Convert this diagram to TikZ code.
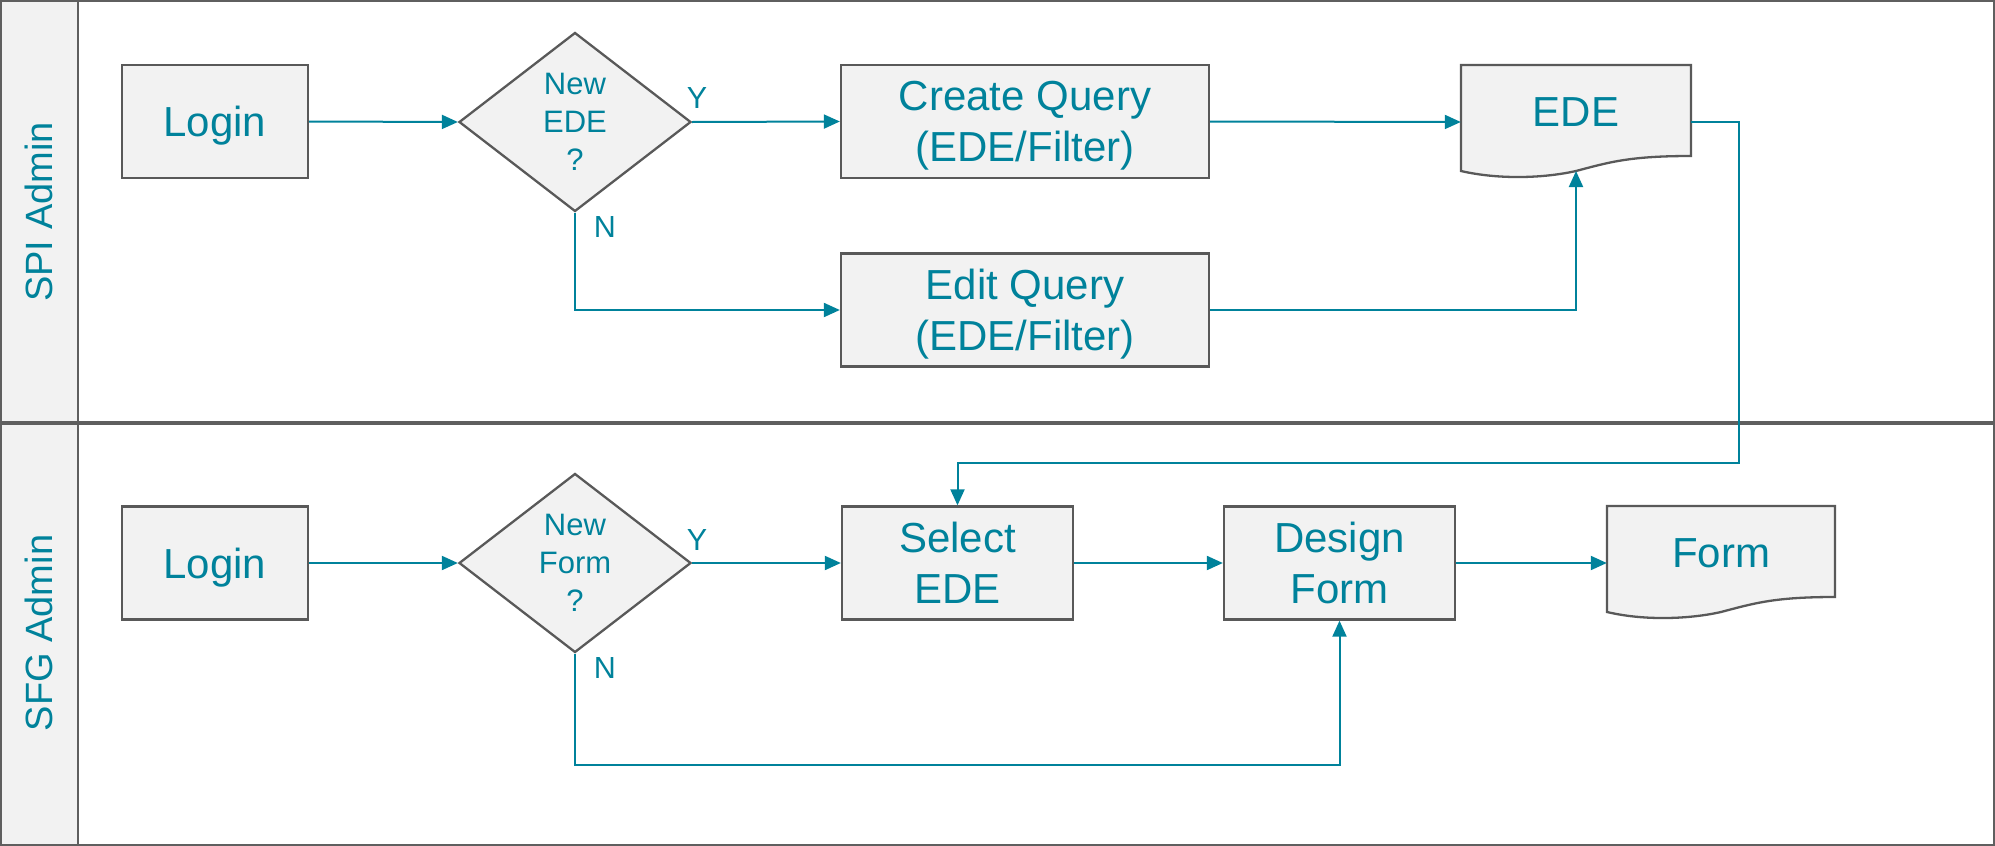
\documentclass[tikz,border=0pt]{standalone}
\usepackage{fontspec}
\setmainfont{Liberation Sans}
\usetikzlibrary{shapes.geometric,arrows.meta,calc}
\definecolor{teal1}{RGB}{0,130,155}
\definecolor{boxfill}{RGB}{242,242,242}
\definecolor{boxline}{RGB}{89,89,89}
\definecolor{laneline}{RGB}{95,95,95}
\begin{document}
\begin{tikzpicture}[x={(1pt,0pt)}, y={(0pt,-1pt)},
  proc/.style={draw=boxline, line width=2.3pt, fill=boxfill, text=teal1,
    font=\fontsize{42}{51}\selectfont, align=center, inner sep=0pt, text depth=0pt},
  dec/.style={diamond, draw=boxline, line width=2.3pt, fill=boxfill, text=teal1,
    font=\fontsize{31}{38}\selectfont, align=center, inner sep=0pt,
    minimum width=232pt, minimum height=179pt},
  docshape/.style={draw=boxline, line width=2.3pt, fill=boxfill},
  docn/.style={inner sep=0pt, minimum height=114pt},
  doctext/.style={text=teal1, font=\fontsize{42}{51}\selectfont, inner sep=0pt},
  yn/.style={text=teal1, font=\fontsize{30.5}{36}\selectfont, inner sep=0pt},
  lanetext/.style={text=teal1, font=\fontsize{38}{46}\selectfont, rotate=90, inner sep=0pt},
  conn/.style={draw=teal1, line width=2pt, -{Triangle[length=16pt,width=14pt]}}
]
\useasboundingbox (0,0) rectangle (1995,846);
% lanes
\fill[boxfill] (0,0) rectangle (79,846);
\draw[laneline, line width=2pt] (1,1) rectangle (1994,422);
\draw[laneline, line width=2pt] (1,424) rectangle (1994,845);
\draw[laneline, line width=2.5pt] (78,1) -- (78,845);
\node[lanetext] (lane1) at (39,212) {SPI Admin};
\node[lanetext] (lane2) at (39,633) {SFG Admin};

% document outlines
\path[docshape] (1461,65) -- (1691,65) -- (1691,156)
  .. controls (1630,156) and (1610,162) .. (1576,171)
  .. controls (1545,178) and (1500,180) .. (1461,171) -- cycle;
\path[docshape] (1607,506) -- (1835,506) -- (1835,597)
  .. controls (1775,597) and (1755,603) .. (1721,612)
  .. controls (1690,619) and (1645,621) .. (1607,612) -- cycle;

% lane 1
\node[proc, minimum width=186pt, minimum height=113pt] (login1) at (215,121.5) {Login};
\node[dec] (d1) at (575,122) {New\\EDE\\?};
\node[proc, minimum width=368pt, minimum height=113pt] (createq) at (1025,121.5) {Create Query\\(EDE/Filter)};
\node[proc, minimum width=368pt, minimum height=113pt] (editq) at (1025,310) {Edit Query\\(EDE/Filter)};
\node[docn, minimum width=230pt] (ede) at (1576,122) {};
\node[doctext] (edetext) at (1576,112) {EDE};
\coordinate (edein) at (1576,171);
\node[yn] (y1) at (697,98) {Y};
\node[yn] (n1) at (605,227) {N};

% lane 2
\node[proc, minimum width=186pt, minimum height=113pt] (login2) at (215,563) {Login};
\node[dec] (d2) at (575,563) {New\\Form\\?};
\node[proc, minimum width=231pt, minimum height=113pt] (selq) at (957.5,563) {Select\\EDE};
\node[proc, minimum width=231pt, minimum height=113pt] (design) at (1339.5,563) {Design\\Form};
\node[docn, minimum width=228pt] (form) at (1721,563) {};
\node[doctext] (formtext) at (1721,553) {Form};
\node[yn] (y2) at (697,540) {Y};
\node[yn] (n2) at (605,668) {N};

% connectors lane 1
\draw[conn] (login1.east) -- (d1.west);
\draw[conn] (d1.east) -- (createq.west);
\draw[conn] (createq.east) -- (ede.west);
\draw[conn] (d1.south) |- (editq.west);
\draw[conn] (editq.east) -| (edein);
\draw[conn] (ede.east) -- ++(48,0) |- ($(selq.north)+(0,-42)$) -- (selq.north);

% connectors lane 2
\draw[conn] (login2.east) -- (d2.west);
\draw[conn] (d2.east) -- (selq.west);
\draw[conn] (selq.east) -- (design.west);
\draw[conn] (design.east) -- (form.west);
\draw[conn] (d2.south) -- ($(d2.south)+(0,111)$) -| (design.south);
\end{tikzpicture}
\end{document}
